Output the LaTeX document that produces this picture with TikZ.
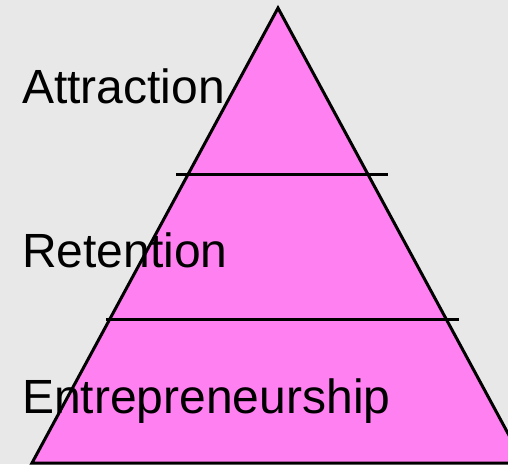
\documentclass[tikz,border=0pt]{standalone}
\usepackage{fontspec}
\setmainfont{Liberation Sans}
\definecolor{bgcol}{RGB}{231,232,231}
\definecolor{pyrpink}{RGB}{255,128,240}

\begin{document}
\begin{tikzpicture}[x=1pt, y=-1pt,
  level/.style={anchor=base west, inner sep=0pt, font=\fontsize{48}{56}\selectfont},
  divider/.style={line width=3pt},
  edge/.style={line width=3pt, fill=pyrpink, line join=miter}]
  \fill[bgcol] (0,0) rectangle (508,464);
  \useasboundingbox (0,0) rectangle (508,464);
  \begin{scope}
  \clip (0,0) rectangle (508,464);
  \draw[edge] (278,8) -- (524,463) -- (32,463) -- cycle;
  \end{scope}

  \coordinate (top1) at (176,174);
  \coordinate (top2) at (388,174);
  \coordinate (mid1) at (106,319);
  \coordinate (mid2) at (459,319);
  \draw[divider] (top1) -- (top2);
  \draw[divider] (mid1) -- (mid2);

  \node[level] (attr) at (22,103) {Attraction};
  \node[level] (ret) at (22,267) {Retention};
  \node[level] (entr) at (22,413) {Entrepreneurship};
\end{tikzpicture}
\end{document}
